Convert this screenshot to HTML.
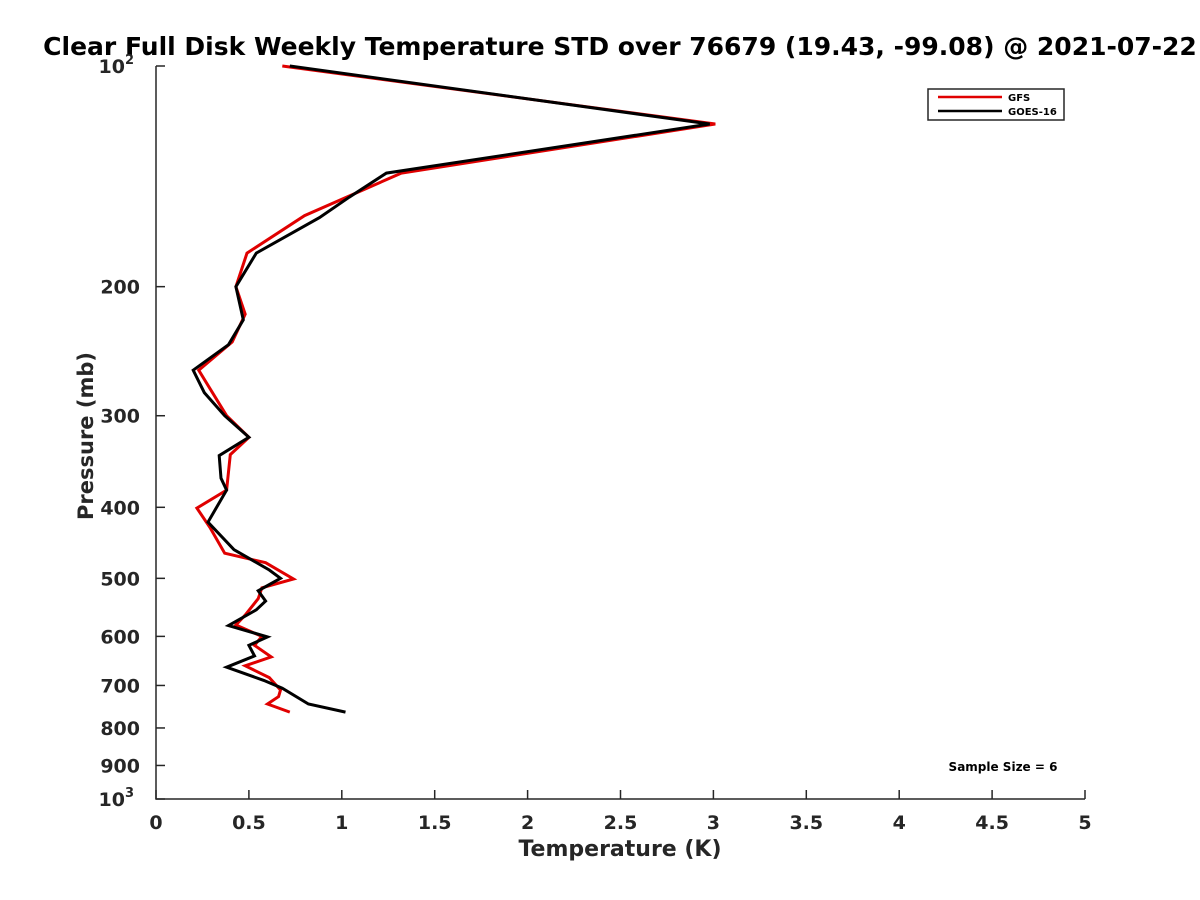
<!DOCTYPE html>
<html><head><meta charset="utf-8"><style>
body{margin:0;background:#fff;}
svg{display:block;font-family:"DejaVu Sans","Liberation Sans",sans-serif;font-weight:bold;}
</style></head><body>
<svg id="chart" width="1200" height="900" xmlns="http://www.w3.org/2000/svg">
<text x="620" y="55" text-anchor="middle" font-size="25" fill="#000">Clear Full Disk Weekly Temperature STD over 76679 (19.43, -99.08) @ 2021-07-22</text>
<g id="axes"></g>
<g id="series"></g>
<text x="620" y="856" text-anchor="middle" font-size="22" fill="#262626">Temperature (K)</text>
<text transform="translate(93,436) rotate(-90)" text-anchor="middle" font-size="21" fill="#262626">Pressure (mb)</text>
<g>
<rect x="928" y="89" width="136" height="31" fill="#fff" stroke="#262626" stroke-width="1.5"/>
<line x1="938" y1="97" x2="1002" y2="97" stroke="#e00000" stroke-width="2.5"/>
<text x="1008" y="101" font-size="10" fill="#000">GFS</text>
<line x1="938" y1="111" x2="1002" y2="111" stroke="#000" stroke-width="2.5"/>
<text x="1008" y="115" font-size="10" fill="#000">GOES-16</text>
</g>
<text x="1003" y="771" text-anchor="middle" font-size="12" fill="#000">Sample Size = 6</text>
</svg>
<script>
const xTicks=[0,0.5,1,1.5,2,2.5,3,3.5,4,4.5,5];
const xTickLabels=["0","0.5","1","1.5","2","2.5","3","3.5","4","4.5","5"];
const yTicks=[100,200,300,400,500,600,700,800,900,1000];
const yTickLabels=["10^2","200","300","400","500","600","700","800","900","10^3"];
const gfsPressure=[100,120,140,160,180,200,218,238,260,300,321,339,379,401,426,462,476,501,515,533,561,579,600,617,640,658,683,710,725,742,761];
const gfsTemp=[0.68,3.01,1.32,0.80,0.49,0.43,0.48,0.41,0.23,0.38,0.50,0.40,0.38,0.22,0.29,0.37,0.59,0.74,0.57,0.55,0.48,0.43,0.57,0.53,0.62,0.48,0.61,0.67,0.66,0.60,0.72];
const goesPressure=[100,120,140,151,161,180,200,222,240,260,279,300,321,340,365,379,419,457,487,500,520,537,552,580,601,617,638,661,689,706,742,761];
const goesTemp=[0.72,2.98,1.24,1.04,0.88,0.54,0.43,0.47,0.39,0.20,0.26,0.37,0.50,0.34,0.35,0.38,0.28,0.42,0.61,0.67,0.55,0.59,0.54,0.39,0.60,0.50,0.53,0.38,0.58,0.68,0.82,1.02];
const X0=156,X1=1085,Y0=66,Y1=799;
const xs=v=>X0+(v-0)/(5-0)*(X1-X0);
const ys=p=>Y0+(Math.log10(p)-2)*(Y1-Y0);
const NS="http://www.w3.org/2000/svg";
const axes=document.getElementById('axes');
function mk(tag,attrs,parent){const e=document.createElementNS(NS,tag);for(const k in attrs)e.setAttribute(k,attrs[k]);parent.appendChild(e);return e;}
const ax=mk('path',{d:`M${X0},${Y0} L${X0},${Y1} L${X1},${Y1}`,fill:'none',stroke:'#262626','stroke-width':1.5},axes);


xTicks.forEach((v,i)=>{
  const t=mk('line',{x1:xs(v),y1:Y1,x2:xs(v),y2:Y1-9,stroke:'#262626','stroke-width':1.5},axes);
  
  
  const l=mk('text',{x:xs(v),y:Y1+30,'text-anchor':'middle','font-size':19,fill:'#262626'},axes);
  
  
  l.textContent=xTickLabels[i];
});
yTicks.forEach((p,i)=>{
  const y=ys(p);
  const t=mk('line',{x1:X0,y1:y,x2:X0+9,y2:y,stroke:'#262626','stroke-width':1.5},axes);
  
  
  const l=mk('text',{x:X0-16,y:y+7,'text-anchor':'end','font-size':19,fill:'#262626'},axes);
  
  
  const lab=yTickLabels[i];
  if(lab.includes('^')){
    const [b,e]=lab.split('^');
    l.setAttribute('x',X0-22);
    l.textContent=b;
    const s=mk('tspan',{dy:-9,'font-size':13},l);
    s.textContent=e;
  } else l.textContent=lab;
});
const ser=document.getElementById('series');
function line(P,T,color,name){
  const d=P.map((p,i)=>(i?'L':'M')+xs(T[i]).toFixed(1)+','+ys(p).toFixed(1)).join(' ');
  const e=mk('path',{d:d,fill:'none',stroke:color,'stroke-width':3,'stroke-linejoin':'miter'},ser);
  
  
}
line(gfsPressure,gfsTemp,'#e00000','gfs-line');
line(goesPressure,goesTemp,'#000','goes16-line');
</script>
</body></html>
